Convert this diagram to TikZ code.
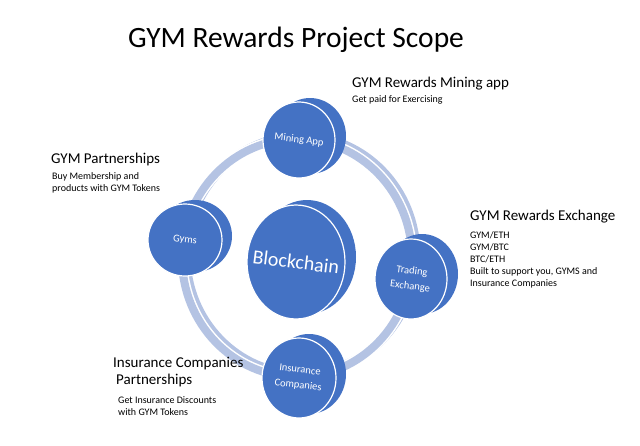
\documentclass[tikz,border=0pt]{standalone}
\usepackage{fontspec}
\setmainfont{Carlito}
\definecolor{diskblue}{HTML}{4472C4}
\definecolor{ringblue}{HTML}{B4C3E3}
\tikzset{
  backdisk/.style={fill=diskblue},
  frontdisk/.style={draw=white, line width=1.2pt, fill=diskblue},
  disktext/.style={text=white, align=center, rotate=-7, font=\fontsize{10.5}{15.5}\selectfont},
  headtext/.style={anchor=base west, inner sep=0pt, font=\fontsize{15}{18}\selectfont},
  smalltext/.style={anchor=base west, inner sep=0pt, font=\fontsize{10}{12}\selectfont},
}
\begin{document}
\begin{tikzpicture}[x=1pt,y=-1pt]
  \useasboundingbox (0,0) rectangle (640,445);
  % title
  \node[anchor=base, inner sep=0pt, font=\fontsize{29.5}{34}\selectfont] (title) at (296,47) {GYM Rewards Project Scope};
  % ring
  \draw[ringblue, line width=9pt] (301,255) ellipse [x radius=115, y radius=119];
  \draw[white, line width=11pt] (297,258) ellipse [x radius=115, y radius=119];
  \draw[ringblue, line width=8pt] (297,258) ellipse [x radius=115, y radius=119];
  % disks
  \fill[backdisk] (310,136) ellipse [x radius=36, y radius=38];
  \draw[frontdisk] (299,140) ellipse [x radius=36, y radius=38];
  \fill[backdisk] (195,236) ellipse [x radius=37, y radius=36];
  \draw[frontdisk] (185,240) ellipse [x radius=37, y radius=36];
  \fill[backdisk] (422,274) ellipse [x radius=36, y radius=40];
  \draw[frontdisk] (411,279) ellipse [x radius=36, y radius=40];
  \fill[backdisk] (309,374) ellipse [x radius=37, y radius=40];
  \draw[frontdisk] (299,378) ellipse [x radius=37, y radius=40];
  \fill[backdisk] (307,257) ellipse [x radius=49, y radius=57];
  \draw[frontdisk] (296,262) ellipse [x radius=49, y radius=57];
  \node[disktext] (mining) at (299,140) {Mining App};
  \node[disktext] (gyms) at (185,240) {Gyms};
  \node[disktext] (trading) at (411,279) {Trading\\Exchange};
  \node[disktext] (insurance) at (299,378) {Insurance\\Companies};
  \node[disktext, font=\fontsize{20}{24}\selectfont] (chain) at (296,262) {Blockchain};
  % labels
  \node[headtext] (mininghead) at (352,87) {GYM Rewards Mining app};
  \node[smalltext] (miningtext) at (352,102) {Get paid for Exercising};
  \node[headtext] (exchead) at (470,220) {GYM Rewards Exchange};
  \foreach \txt [count=\i] in {GYM/ETH, GYM/BTC, BTC/ETH, {Built to support you, GYMS and}, Insurance Companies}
    \node[smalltext] (exc\i) at (470,{226.5+12*\i}) {\txt};
  \node[headtext] (gymhead) at (51,163) {GYM Partnerships};
  \node[smalltext] (gymtext1) at (52,179) {Buy Membership and};
  \node[smalltext] (gymtext2) at (52,191) {products with GYM Tokens};
  \node[headtext] (inshead) at (113,367) {Insurance Companies};
  \node[headtext] (inshead2) at (116,384) {Partnerships};
  \node[smalltext] (instext1) at (118,403) {Get Insurance Discounts};
  \node[smalltext] (instext2) at (118,415) {with GYM Tokens};
\end{tikzpicture}
\end{document}
